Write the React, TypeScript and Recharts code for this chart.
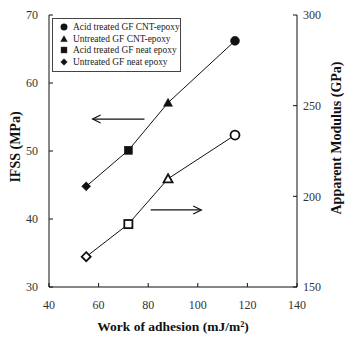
import {
  ComposedChart,
  Line,
  XAxis,
  YAxis,
  ReferenceLine,
  Legend,
} from "recharts";

const workOfAdhesion = [55, 72, 88, 115];
const ifss = [44.8, 50.1, 57.1, 66.2];
const modulus = [166.7, 184.7, 209.7, 233.8];
const markerShapes = ["diamond", "square", "triangle", "circle"];

const xTicks = [40, 60, 80, 100, 120, 140];
const ifssTicks = [30, 40, 50, 60, 70];
const modulusTicks = [150, 200, 250, 300];

const legendLabels = [
  "Acid treated GF CNT-epoxy",
  "Untreated GF CNT-epoxy",
  "Acid treated GF neat epoxy",
  "Untreated GF neat epoxy",
];
const legendShapes = ["circle", "triangle", "square", "diamond"];

// arrow annotations: [x1, x2, y] in data units, head at x2
const leftArrow = [78.5, 57.6, 54.7];
const rightArrow = [81, 101.4, 192.5];

const ifssData = workOfAdhesion.map((x, i) => ({ x, y: ifss[i] }));
const modulusData = workOfAdhesion.map((x, i) => ({ x, y: modulus[i] }));

const serif = "'Liberation Serif', 'Times New Roman', serif";
const ink = "#111";

function Marker({
  shape,
  cx,
  cy,
  filled,
  s = 9,
}: {
  shape: string;
  cx: number;
  cy: number;
  filled: boolean;
  s?: number;
}) {
  const fill = filled ? ink : "#fff";
  const sw = filled ? 0.5 : 1.8;
  const h = s / 2;
  if (shape === "circle")
    return <circle cx={cx} cy={cy} r={h} fill={fill} stroke={ink} strokeWidth={sw} />;
  if (shape === "square")
    return (
      <rect x={cx - h * 0.9} y={cy - h * 0.9} width={s * 0.9} height={s * 0.9} fill={fill} stroke={ink} strokeWidth={sw} />
    );
  if (shape === "triangle")
    return (
      <polygon
        points={`${cx},${cy - h} ${cx + h},${cy + h * 0.8} ${cx - h},${cy + h * 0.8}`}
        fill={fill}
        stroke={ink}
        strokeWidth={sw}
      />
    );
  return (
    <polygon
      points={`${cx},${cy - h} ${cx + h},${cy} ${cx},${cy + h} ${cx - h},${cy}`}
      fill={fill}
      stroke={ink}
      strokeWidth={sw}
    />
  );
}

const dotFor = (filled: boolean) => (props: any) =>
  (
    <Marker
      key={`${filled ? "f" : "o"}-${props.index}`}
      shape={markerShapes[props.index]}
      cx={props.cx}
      cy={props.cy}
      filled={filled}
    />
  );

function Arrow(props: any) {
  const { x1, y1, x2, y2 } = props;
  const dir = x2 > x1 ? 1 : -1;
  return (
    <g>
      <line x1={x1} y1={y1} x2={x2} y2={y2} stroke={ink} strokeWidth={1.2} />
      <polyline
        points={`${x2 - dir * 8},${y2 - 4} ${x2},${y2} ${x2 - dir * 8},${y2 + 4}`}
        fill="none"
        stroke={ink}
        strokeWidth={1.2}
      />
    </g>
  );
}

function LegendBox() {
  return (
    <div
      style={{
        border: "1px solid #444",
        background: "#fff",
        padding: "2px 2px 3px 6px",
        width: 119,
        fontFamily: serif,
        fontSize: 9.4,
        color: "#222",
      }}
    >
      {legendLabels.map((label, i) => (
        <div key={label} style={{ display: "flex", alignItems: "center", height: 11.7 }}>
          <svg width={12} height={10} style={{ marginRight: 2, flexShrink: 0 }}>
            <Marker shape={legendShapes[i]} cx={5} cy={5} filled s={6.5} />
          </svg>
          <span style={{ whiteSpace: "nowrap" }}>{label}</span>
        </div>
      ))}
    </div>
  );
}

const tickStyle = { fontFamily: serif, fontSize: 12, fill: "#333" };
const labelStyle = { fontFamily: serif, fontWeight: 700, fill: ink };

export default function App() {
  return (
    <div style={{ position: "absolute", left: 0, top: 0, background: "#fff" }}>
      <ComposedChart
        width={347}
        height={341}
        margin={{ top: 15, right: 0, bottom: 0, left: 0 }}
      >
        <XAxis
          xAxisId="x"
          type="number"
          dataKey="x"
          domain={[40, 140]}
          ticks={xTicks}
          height={54}
          tickSize={-4}
          tickMargin={17}
          tick={tickStyle}
          stroke={ink}
          label={{
            value: "Work of adhesion (mJ/m\u00b2)",
            position: "center",
            dy: 12,
            style: { ...labelStyle, fontSize: 13.5 },
          }}
        />
        <XAxis
          xAxisId="top"
          orientation="top"
          type="number"
          domain={[40, 140]}
          height={0}
          tick={false}
          tickLine={false}
          stroke="#444"
        />
        <YAxis
          yAxisId="left"
          type="number"
          domain={[30, 70]}
          ticks={ifssTicks}
          width={49}
          tickSize={-4}
          tickMargin={15}
          tick={tickStyle}
          stroke={ink}
          label={{
            value: "IFSS (MPa)",
            angle: -90,
            position: "center",
            dx: -9,
            dy: -4,
            style: { ...labelStyle, fontSize: 14 },
          }}
        />
        <YAxis
          yAxisId="right"
          orientation="right"
          type="number"
          domain={[150, 300]}
          ticks={modulusTicks}
          width={50}
          tickSize={-4}
          tickMargin={10}
          tick={tickStyle}
          stroke={ink}
          label={{
            value: "Apparent Modulus (GPa)",
            angle: -90,
            position: "center",
            dx: 14,
            dy: -13,
            style: { ...labelStyle, fontSize: 14 },
          }}
        />
        <Line
          xAxisId="x"
          yAxisId="left"
          data={ifssData}
          dataKey="y"
          stroke={ink}
          strokeWidth={1}
          dot={dotFor(true)}
          activeDot={false}
          isAnimationActive={false}
        />
        <Line
          xAxisId="x"
          yAxisId="right"
          data={modulusData}
          dataKey="y"
          stroke={ink}
          strokeWidth={1}
          dot={dotFor(false)}
          activeDot={false}
          isAnimationActive={false}
        />
        <ReferenceLine
          xAxisId="x"
          yAxisId="left"
          segment={[
            { x: leftArrow[0], y: leftArrow[2] },
            { x: leftArrow[1], y: leftArrow[2] },
          ]}
          shape={Arrow}
        />
        <ReferenceLine
          xAxisId="x"
          yAxisId="right"
          segment={[
            { x: rightArrow[0], y: rightArrow[2] },
            { x: rightArrow[1], y: rightArrow[2] },
          ]}
          shape={Arrow}
        />
        <Legend
          layout="vertical"
          align="center"
          verticalAlign="middle"
          content={<LegendBox />}
          wrapperStyle={{ left: 52, top: 18, width: "auto" }}
        />
      </ComposedChart>
    </div>
  );
}
